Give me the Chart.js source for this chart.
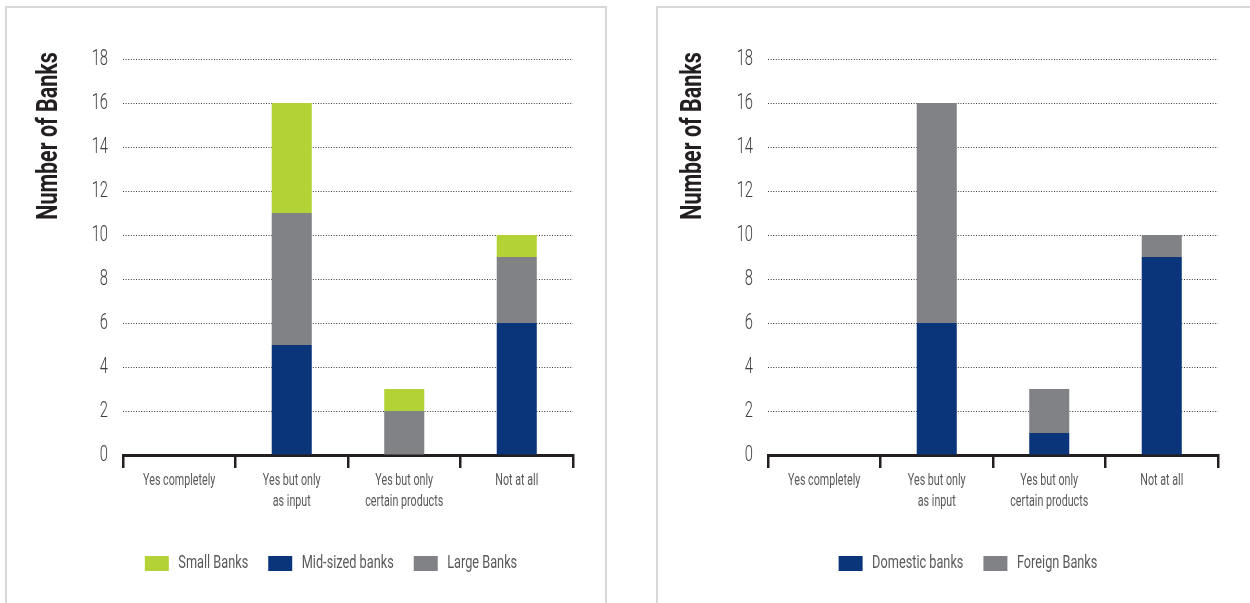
<!DOCTYPE html>
<html>
<head>
<meta charset="utf-8">
<script src="https://cdn.jsdelivr.net/npm/chart.js@4"></script>
<style>
    html, body { margin: 0; padding: 0; background: #fff; }
    body { width: 1250px; height: 603px; position: relative; overflow: hidden; }
    .panel { position: absolute; top: 6px; height: 640px; border: 2px solid #d8d8d8; box-sizing: border-box; }
    canvas { position: absolute; top: 6px; }
</style>
</head>
<body>
<div class="panel" style="left:5px; width:602px;"></div>
<div class="panel" style="left:656px; width:640px;"></div>
<canvas id="size-chart" style="left:6px;" width="600" height="597"></canvas>
<canvas id="origin-chart" style="left:657px;" width="593" height="597"></canvas>
<script>
// Categories shared by both charts
const categories = [
    ['Yes completely'],
    ['Yes but only', 'as input'],
    ['Yes but only', 'certain products'],
    ['Not at all']
];

// Left chart: by bank size (stack order bottom to top)
const midSizedBanks = [0, 5, 0, 6];
const largeBanks = [0, 6, 2, 3];
const smallBanks = [0, 5, 1, 1];
const sizeLegendOrder = ['Small Banks', 'Mid-sized banks', 'Large Banks'];

// Right chart: by origin
const domesticBanks = [0, 6, 1, 9];
const foreignBanks = [0, 10, 2, 1];

const yMax = 18;
const yStep = 2;
const yTitle = 'Number of Banks';

const NAVY = '#0b357a';
const GREY = '#808285';
const GREEN = '#b3d235';
const FONT = "Roboto, 'Liberation Sans', sans-serif";

// No condensed face is installed, so squeeze text horizontally on the canvas
function condense(ctx, sx) {
    const fill = ctx.fillText.bind(ctx);
    const measure = ctx.measureText.bind(ctx);
    ctx.textScale = sx;
    ctx.fillText = function (text, x, y, maxWidth) {
        const s = ctx.textScale;
        ctx.save();
        ctx.translate(x, y);
        ctx.scale(s, 1);
        if (maxWidth !== undefined) fill(text, 0, 0, maxWidth / s);
        else fill(text, 0, 0);
        ctx.restore();
    };
    ctx.measureText = function (text) {
        const m = measure(text);
        return {
            width: m.width * ctx.textScale,
            actualBoundingBoxAscent: m.actualBoundingBoxAscent,
            actualBoundingBoxDescent: m.actualBoundingBoxDescent
        };
    };
}

// Y axis title drawn up and to the top like the original
const yTitlePlugin = {
    id: 'yTitle',
    afterDraw(chart, args, opts) {
        const ctx = chart.ctx;
        const old = ctx.textScale;
        ctx.save();
        ctx.translate(opts.x, opts.y);
        ctx.rotate(-Math.PI / 2);
        ctx.font = 'bold 29px ' + FONT;
        ctx.fillStyle = '#231f20';
        ctx.textAlign = 'center';
        ctx.textBaseline = 'middle';
        ctx.textScale = 0.74;
        ctx.fillText(yTitle, 0, 0);
        ctx.textScale = old;
        ctx.restore();
    }
};

function makeChart(id, datasets, cfg) {
    const ctx = document.getElementById(id).getContext('2d');
    condense(ctx, 0.67);
    return new Chart(ctx, {
        type: 'bar',
        data: { labels: categories, datasets: datasets },
        plugins: [yTitlePlugin],
        options: {
            responsive: false,
            animation: false,
            events: [],
            datasets: {
                bar: { categoryPercentage: 1, barPercentage: 0.356 }
            },
            layout: {
                padding: { top: 53, left: cfg.padLeft, right: cfg.padRight, bottom: 20 }
            },
            scales: {
                x: {
                    stacked: true,
                    offset: true,
                    afterFit: s => { s.height = 79; },
                    grid: {
                        offset: true,
                        drawOnChartArea: false,
                        drawTicks: true,
                        tickLength: 13,
                        color: '#231f20',
                        lineWidth: 2.5
                    },
                    border: { display: true, color: '#231f20', width: 3 },
                    ticks: {
                        autoSkip: false,
                        maxRotation: 0,
                        minRotation: 0,
                        padding: 2,
                        color: '#58595b',
                        font: { family: FONT, weight: 400, size: 16, lineHeight: 1.32 }
                    }
                },
                y: {
                    stacked: true,
                    min: 0,
                    max: yMax,
                    afterFit: s => { s.width = cfg.yWidth; },
                    grid: {
                        drawTicks: false,
                        color: c => c.tick.value === 0 ? 'rgba(0,0,0,0)' : '#3a3a3a',
                        lineWidth: 1,
                    },
                    border: { display: false, dash: [1, 1.6] },
                    ticks: {
                        stepSize: yStep,
                        padding: 15,
                        color: '#404041',
                        font: { family: FONT, weight: 300, size: 22 }
                    }
                }
            },
            plugins: {
                title: { display: false },
                tooltip: { enabled: false },
                yTitle: { x: cfg.titleX, y: 130 },
                legend: {
                    position: 'bottom',
                    align: 'center',
                    labels: {
                        boxWidth: 24,
                        boxHeight: 15,
                        padding: 20,
                        color: '#58595b',
                        font: { family: FONT, weight: 400, size: 19 },
                        sort: cfg.sort
                    }
                }
            }
        }
    });
}

makeChart('size-chart', [
    { label: 'Mid-sized banks', data: midSizedBanks, backgroundColor: NAVY },
    { label: 'Large Banks', data: largeBanks, backgroundColor: GREY },
    { label: 'Small Banks', data: smallBanks, backgroundColor: GREEN }
], {
    padLeft: 83, padRight: 33, yWidth: 34, titleX: 44,
    sort: (a, b) => sizeLegendOrder.indexOf(a.text) - sizeLegendOrder.indexOf(b.text)
});

makeChart('origin-chart', [
    { label: 'Domestic banks', data: domesticBanks, backgroundColor: NAVY },
    { label: 'Foreign Banks', data: foreignBanks, backgroundColor: GREY }
], {
    padLeft: 61, padRight: 32, yWidth: 50, titleX: 37,
    sort: null
});
</script>
</body>
</html>
